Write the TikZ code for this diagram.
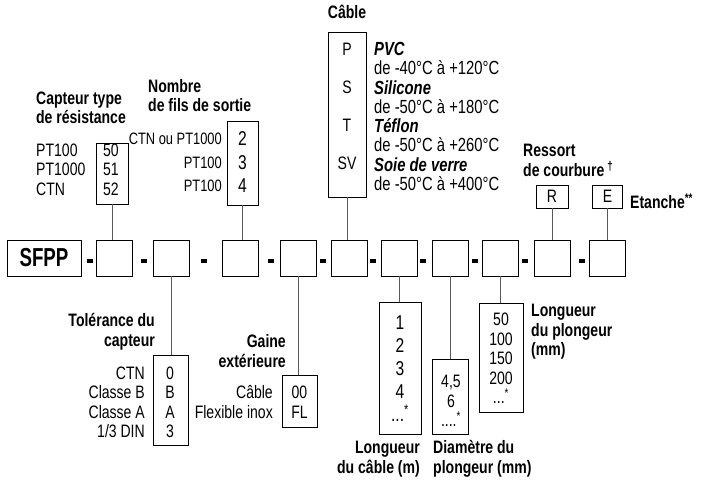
\documentclass[tikz,border=0pt]{standalone}
\usepackage{fontspec}
\setmainfont{Liberation Sans}[FakeStretch=0.78]
\newfontfamily\sfppfont{Liberation Sans}[FakeStretch=0.72]
\begin{document}
\begin{tikzpicture}[x=1pt, y=-1pt,
    case/.style={rectangle, draw, line width=0.8pt, minimum width=36pt, minimum height=36pt, inner sep=0pt},
    tab/.style={rectangle, draw, line width=0.8pt, inner sep=0pt, font=\fontsize{18}{19.5}\selectfont},
    val/.style={align=center, inner sep=0pt, font=\fontsize{18}{19.5}\selectfont},
    lab/.style={inner sep=0pt, font=\fontsize{18}{19.5}\selectfont},
    titre/.style={inner sep=0pt, font=\fontsize{18}{19.5}\selectfont\bfseries},
    trait/.style={line width=0.8pt, draw=black!65},
    tiret/.style={rectangle, fill=black, minimum width=6.5pt, minimum height=3.4pt, inner sep=0pt}
]
    \useasboundingbox (0,0) rectangle (702,480);

    % Rangée principale
    \node[case, minimum width=74pt, font=\sfppfont\bfseries\fontsize{26}{26}\selectfont] (sfpp) at (44,258) {SFPP};
    \node[case] (c1) at (114,258) {};
    \node[case] (c2) at (171,258) {};
    \node[case] (c3) at (240.5,258) {};
    \node[case] (c4) at (298,258) {};
    \node[case] (c5) at (349,258) {};
    \node[case] (c6) at (399,258) {};
    \node[case] (c7) at (450,258) {};
    \node[case] (c8) at (500,258) {};
    \node[case] (c9) at (552,258) {};
    \node[case] (c10) at (607.5,258) {};

    % Tirets
    \node[tiret] (s1) at (90,261) {};
    \node[tiret] (s2) at (144,261) {};
    \node[tiret] (s3) at (204,261) {};
    \node[tiret] (s4) at (271,261) {};
    \node[tiret] (s5) at (323,261) {};
    \node[tiret] (s6) at (373,261) {};
    \node[tiret] (s7) at (423,261) {};
    \node[tiret] (s8) at (475,261) {};
    \node[tiret] (s9) at (525,261) {};
    \node[tiret] (s10) at (582,261) {};

    % Capteur type de résistance
    \node[titre, align=left] (t_res) at (81,108) {Capteur type\\de résistance};
    \node[tab, minimum width=32pt, minimum height=61pt] (res) at (112,173.5) {};
    \node[val, align=right, anchor=east] (res_val) at (119,169.5) {50\\51\\52};
    \node[lab, align=left, anchor=west] (res_lab) at (36,169.5) {PT100\\PT1000\\CTN};
    \draw[trait] (res.south) -- (res.south |- c1.north);

    % Nombre de fils
    \node[titre, align=left, anchor=west] (t_fils) at (148,95.5) {Nombre\\de fils de sortie};
    \node[tab, minimum width=31pt, minimum height=84pt] (fils) at (242.5,163) {};
    \node[val, font=\fontsize{20}{23.5}\selectfont] (fils_val) at (242.5,162.5) {2\\3\\4};
    \node[lab, align=right, anchor=east, font=\fontsize{16.5}{23.5}\selectfont] (fils_lab) at (222,162.5) {CTN ou PT1000\\PT100\\PT100};
    \draw[trait] (fils.south) -- (fils.south |- c3.north);

    % Câble
    \node[titre] (t_cable) at (347,12) {Câble};
    \node[tab, minimum width=38pt, minimum height=165pt] (cable) at (347,114.5) {};
    \node[val, font=\fontsize{18}{38}\selectfont] (cable_val) at (347,106) {P\\S\\T\\SV};
    \node[lab, align=left, anchor=west, font=\fontsize{19}{19.3}\selectfont] (cable_lab) at (374,116.5)
        {\textbf{\textit{PVC}}\\de -40°C à +120°C\\\textbf{\textit{Silicone}}\\de -50°C à +180°C\\
         \textbf{\textit{Téflon}}\\de -50°C à +260°C\\\textbf{\textit{Soie de verre}}\\de -50°C à +400°C};
    \draw[trait] (cable.south) -- (cable.south |- c5.north);

    % Ressort et étanchéité
    \node[titre, align=left, anchor=west] (t_ressort) at (523,160.5) {Ressort\\de courbure\,\textsuperscript{†}};
    \node[tab, minimum width=32pt, minimum height=23pt] (ressort) at (552,196.5) {R};
    \node[tab, minimum width=30pt, minimum height=23pt] (etanche) at (607.5,196.5) {E};
    \node[titre, anchor=west] (t_etanche) at (630,201) {Etanche\textsuperscript{**}};
    \draw[trait] (ressort.south) -- (ressort.south |- c9.north);
    \draw[trait] (etanche.south) -- (etanche.south |- c10.north);

    % Tolérance du capteur
    \node[tab, minimum width=35pt, minimum height=90pt] (tol) at (171,400) {};
    \node[val] (tol_val) at (170,402.5) {0\\B\\A\\3};
    \node[lab, align=right, anchor=east] (tol_lab) at (145,402.5) {CTN\\Classe B\\Classe A\\1/3 DIN};
    \node[titre, align=right, anchor=east] (t_tol) at (155,332) {Tolérance du\\capteur};
    \draw[trait] (c2.south) -- (c2.south |- tol.north);

    % Gaine extérieure
    \node[tab, minimum width=35pt, minimum height=52pt] (gaine) at (299.5,401) {};
    \node[val] (gaine_val) at (299.5,402) {00\\FL};
    \node[lab, align=right, anchor=east] (gaine_lab) at (273,402) {Câble\\Flexible inox};
    \node[titre, align=right, anchor=east] (t_gaine) at (286,351) {Gaine\\extérieure};
    \draw[trait] (c4.south) -- (c4.south |- gaine.north);

    % Longueur du câble
    \node[tab, minimum width=42pt, minimum height=132pt] (lcable) at (400,368) {};
    \node[val, font=\fontsize{20}{23}\selectfont] (lcable_val) at (400,369) {1\\2\\3\\4\\...\textsuperscript{*}};
    \node[titre, align=right, anchor=east] (t_lcable) at (420,459) {Longueur\\du câble (m)};
    \draw[trait] (c6.south) -- (c6.south |- lcable.north);

    % Diamètre du plongeur
    \node[tab, minimum width=36pt, minimum height=75pt] (diam) at (450,396.5) {};
    \node[val] (diam_val) at (451,401) {4,5\\6\\....\textsuperscript{*}};
    \node[titre, align=left, anchor=west] (t_diam) at (433,459) {Diamètre du\\plongeur (mm)};
    \draw[trait] (c7.south) -- (c7.south |- diam.north);

    % Longueur du plongeur
    \node[tab, minimum width=44pt, minimum height=109pt] (plong) at (501,357.5) {};
    \node[val] (plong_val) at (501,358.5) {50\\100\\150\\200\\...\textsuperscript{*}};
    \node[titre, align=left, anchor=west] (t_plong) at (531,332) {Longueur\\du plongeur\\(mm)};
    \draw[trait] (c8.south) -- (c8.south |- plong.north);

\end{tikzpicture}
\end{document}
